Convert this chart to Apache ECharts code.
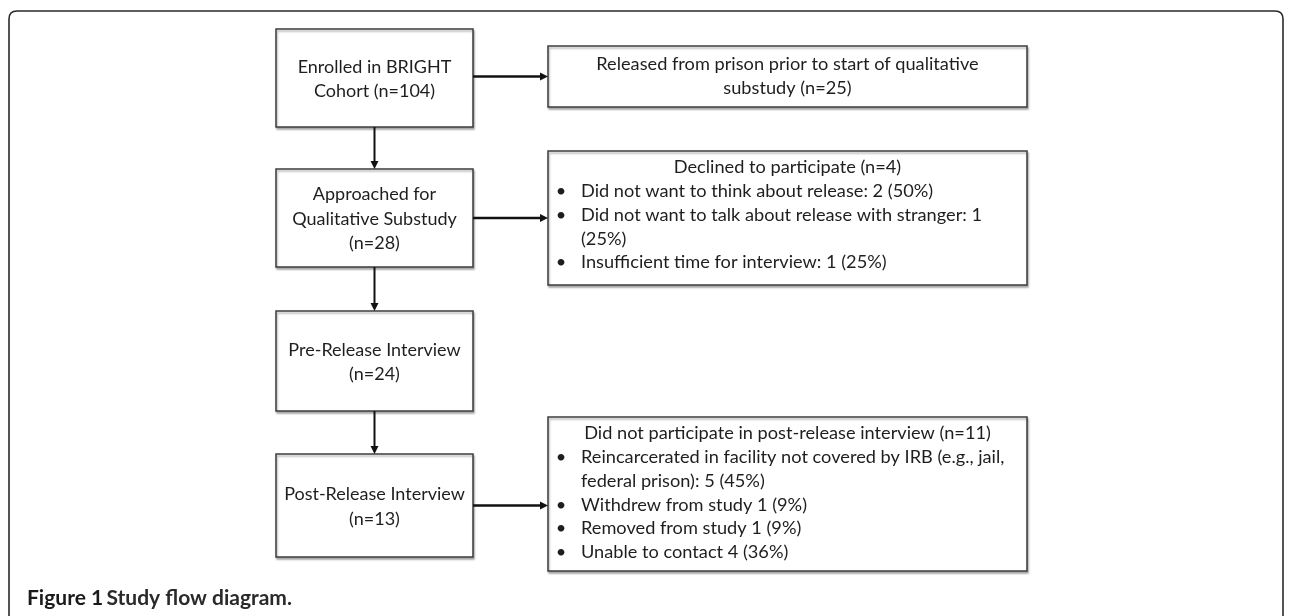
<!DOCTYPE html>
<html>
<head>
<meta charset="utf-8">
<script src="https://cdn.jsdelivr.net/npm/echarts@6/dist/echarts.min.js"></script>
<style>
html,body{margin:0;padding:0;background:#fff;}
#chart{width:1290px;height:616px;}
</style>
</head>
<body>
<div id="chart"></div>
<script>
// ---- content ----
const stepLabels = [
  'Enrolled in BRIGHT\nCohort (n=104)',
  'Approached for\nQualitative Substudy\n(n=28)',
  'Pre-Release Interview\n(n=24)',
  'Post-Release Interview\n(n=13)'
];
const sideTitles = [
  'Released from prison prior to start of qualitative\nsubstudy (n=25)',
  'Declined to participate (n=4)',
  null,
  'Did not participate in post-release interview (n=11)'
];
const sideBullets = [
  [],
  ['Did not want to think about release: 2 (50%)',
   'Did not want to talk about release with stranger: 1\n(25%)',
   'Insufficient time for interview: 1 (25%)'],
  [],
  ['Reincarcerated in facility not covered by IRB (e.g., jail,\nfederal prison): 5 (45%)',
   'Withdrew from study 1 (9%)',
   'Removed from study 1 (9%)',
   'Unable to contact 4 (36%)']
];
const captionBold = 'Figure 1';
const captionText = 'Study flow diagram.';

// ---- layout (canvas units) ----
const mainCol = [276, 473];
const mainRows = [[29,127],[169,267],[311,411],[454,557]];
const sideCol = [548, 1027];
const sideRows = [[46,107],[151,285],null,[417,571]];
const frameBox = [9, 11, 1283, 625];
const frameRadius = 8;
const lineH = 23.9;
const firstLineOffset = 16;
const bulletX = 561, bulletTextX = 581;

const FONT = 'Lato, "Open Sans", sans-serif';
const FS = 18.2;
const TEXT_COLOR = '#1e1e1e';
const BOX_STYLE = {fill:'#fff', stroke:'#3c3c3c', lineWidth:1.5,
  shadowBlur:2, shadowOffsetX:1, shadowOffsetY:2, shadowColor:'rgba(0,0,0,0.3)'};

const mainData = stepLabels.map((s,i)=>[i]);
const sideData = sideTitles.map((t,i)=>t ? [i] : null).filter(Boolean);
const arrowData = [];
for (let i=0;i<stepLabels.length-1;i++) arrowData.push([i,'down']);
sideTitles.forEach((t,i)=>{ if(t) arrowData.push([i,'side']); });

const chart = echarts.init(document.getElementById('chart'), null, {renderer:'canvas'});

function boxRect(api, col, row){
  const p0 = api.coord([col[0], row[0]]);
  const p1 = api.coord([col[1], row[1]]);
  return {x:p0[0], y:p0[1], width:p1[0]-p0[0], height:p1[1]-p0[1]};
}

const option = {
  animation:false,
  backgroundColor:'#fff',
  grid:{left:0,right:0,top:0,bottom:0},
  xAxis:{type:'value',min:0,max:1290,show:false},
  yAxis:{type:'value',min:0,max:616,inverse:true,show:false},
  graphic:[
    {type:'text', left:27, top:588,
     style:{
       text:'{a|'+captionBold+'} {b|'+captionText+'}',
       rich:{
         a:{fontFamily:'Lato, sans-serif', fontWeight:'bold', fontSize:21, fill:'#1a1a1a'},
         b:{fontFamily:'Lato, sans-serif', fontWeight:'bold', fontSize:21, fill:'#2a2a2a'}
       }
     }}
  ],
  series:[
    {
      type:'custom', coordinateSystem:'cartesian2d', data:[[0]], silent:true,
      renderItem:function(params, api){
        const p0 = api.coord([frameBox[0], frameBox[1]]);
        const p1 = api.coord([frameBox[2], frameBox[3]]);
        const R = frameRadius;
        const d = 'M'+p0[0]+','+p1[1]+' L'+p0[0]+','+(p0[1]+R)+
          ' Q'+p0[0]+','+p0[1]+' '+(p0[0]+R)+','+p0[1]+
          ' L'+(p1[0]-R)+','+p0[1]+
          ' Q'+p1[0]+','+p0[1]+' '+p1[0]+','+(p0[1]+R)+
          ' L'+p1[0]+','+p1[1];
        return {type:'path', shape:{pathData:d}, style:{fill:null, stroke:'#2a2a2a', lineWidth:1.6}};
      }
    },
    {
      type:'custom', coordinateSystem:'cartesian2d', data:mainData,
      renderItem:function(params, api){
        const i = api.value(0);
        const r = boxRect(api, mainCol, mainRows[i]);
        return {type:'group', children:[
          {type:'rect', shape:r, style:BOX_STYLE},
          {type:'text', x:r.x + r.width/2, y:r.y + r.height/2 + 1,
           style:{text:stepLabels[i], align:'center', verticalAlign:'middle',
                  fontFamily:FONT, fontSize:18, lineHeight:24.5, fill:TEXT_COLOR}}
        ]};
      }
    },
    {
      type:'custom', coordinateSystem:'cartesian2d', data:sideData,
      renderItem:function(params, api){
        const i = api.value(0);
        const r = boxRect(api, sideCol, sideRows[i]);
        const children = [{type:'rect', shape:r, style:BOX_STYLE}];
        const bullets = sideBullets[i];
        const txt = {fontFamily:FONT, fontSize:FS, fill:TEXT_COLOR, verticalAlign:'middle'};
        if (!bullets.length) {
          children.push({type:'text', x:r.x + r.width/2, y:r.y + r.height/2,
            style:Object.assign({text:sideTitles[i], align:'center', lineHeight:24}, txt)});
        } else {
          let k = 0;
          const y0 = r.y + firstLineOffset;
          children.push({type:'text', x:r.x + r.width/2, y:y0,
            style:Object.assign({text:sideTitles[i], align:'center'}, txt)});
          k++;
          bullets.forEach(b=>{
            const segs = b.split('\n');
            segs.forEach((s,j)=>{
              const yy = y0 + k*lineH;
              if (j===0) children.push({type:'text', x:r.x + (bulletX-sideCol[0]), y:yy,
                style:Object.assign({text:'•', align:'center'}, txt)});
              children.push({type:'text', x:r.x + (bulletTextX-sideCol[0]), y:yy,
                style:Object.assign({text:s, align:'left'}, txt)});
              k++;
            });
          });
        }
        return {type:'group', children:children};
      }
    },
    {
      type:'custom', coordinateSystem:'cartesian2d', data:arrowData,
      renderItem:function(params, api){
        const i = api.value(0);
        const kind = arrowData[params.dataIndex][1];
        let a, b, head;
        const hl = 8, hw = 4;
        if (kind === 'down') {
          const cx = (mainCol[0]+mainCol[1])/2;
          a = api.coord([cx, mainRows[i][1]]);
          b = api.coord([cx, mainRows[i+1][0]]);
          head = [[b[0]-hw, b[1]-hl],[b[0]+hw, b[1]-hl],[b[0], b[1]]];
        } else {
          const top = Math.max(mainRows[i][0], sideRows[i][0]);
          const bot = Math.min(mainRows[i][1], sideRows[i][1]);
          const cy = (top + bot)/2;
          a = api.coord([mainCol[1], cy]);
          b = api.coord([sideCol[0], cy]);
          head = [[b[0]-hl, b[1]-hw],[b[0]-hl, b[1]+hw],[b[0], b[1]]];
        }
        const end = kind==='down' ? [b[0], b[1]-hl+1] : [b[0]-hl+1, b[1]];
        return {type:'group', children:[
          {type:'line', shape:{x1:a[0], y1:a[1], x2:end[0], y2:end[1]},
           style:{stroke:'#111', lineWidth: kind==='down' ? 2 : 2.6}},
          {type:'polygon', shape:{points:head}, style:{fill:'#111'}}
        ]};
      }
    }
  ]
};
chart.setOption(option);
</script>
</body>
</html>
